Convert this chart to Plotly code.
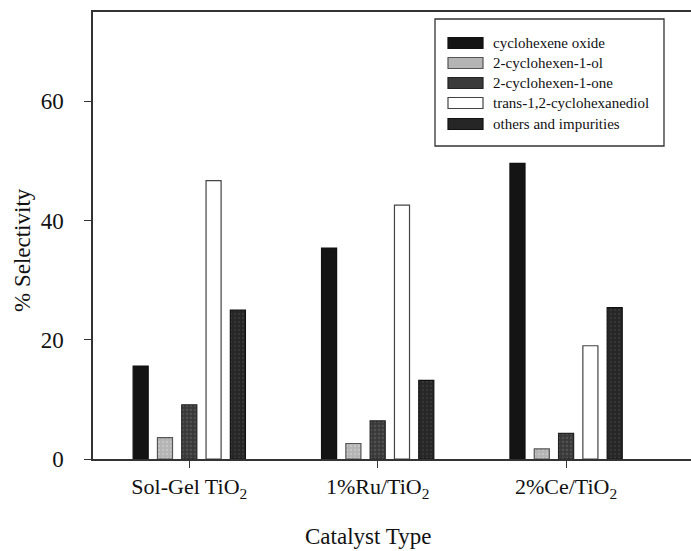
import plotly.graph_objects as go

# Catalysts and product selectivities (%)
catalysts = ["Sol-Gel TiO<sub>2</sub>", "1%Ru/TiO<sub>2</sub>", "2%Ce/TiO<sub>2</sub>"]
products = [
    "cyclohexene oxide",
    "2-cyclohexen-1-ol",
    "2-cyclohexen-1-one",
    "trans-1,2-cyclohexanediol",
    "others and impurities",
]
cyclohexene_oxide = [15.6, 35.4, 49.6]
cyclohexenol = [3.6, 2.6, 1.7]
cyclohexenone = [9.1, 6.4, 4.3]
cyclohexanediol = [46.7, 42.6, 19.0]
others = [25.0, 13.2, 25.4]
series = [cyclohexene_oxide, cyclohexenol, cyclohexenone, cyclohexanediol, others]
y_ticks = [0, 20, 40, 60]

fills = ["#141414", "#b4b4b4", "#3a3a3a", "#ffffff", "#262626"]
pattern_fg = [None, "#d8d8d8", "#6a6a6a", None, "#4a4a4a"]
outline = ["#111111", "#555555", "#222222", "#444444", "#111111"]

FONT = "Liberation Serif"
W, H = 691, 551
L, R, T, B = 93, 0, 12, 92

fig = go.Figure()
for name, vals, fc, pf, lc in zip(products, series, fills, pattern_fg, outline):
    marker = dict(color=fc, line=dict(color=lc, width=1.2))
    if pf:
        marker["pattern"] = dict(shape=".", fgcolor=pf, bgcolor=fc, size=4, solidity=0.25)
    fig.add_trace(go.Bar(x=list(range(len(catalysts))), y=vals, name=name,
                         marker=marker, showlegend=False))

# Legend box drawn by hand so swatches are wide rectangles
pw, ph = W - L - R, H - T - B
def px(x):
    return (x - L) / pw
def py(y):
    return (H - B - y) / ph

shapes = [dict(type="rect", xref="paper", yref="paper",
               x0=px(435), x1=px(664), y0=py(146), y1=py(19),
               line=dict(color="#333333", width=1.3), fillcolor="rgba(0,0,0,0)")]
annotations = []
row_y = [43, 63, 83, 103, 124]
for name, fc, lc, ry in zip(products, fills, outline, row_y):
    shapes.append(dict(type="rect", xref="paper", yref="paper",
                       x0=px(448), x1=px(483), y0=py(ry + 5.5), y1=py(ry - 5.5),
                       fillcolor=fc, line=dict(color=lc, width=1.2)))
    annotations.append(dict(xref="paper", yref="paper", x=px(491), y=py(ry),
                            text=name, showarrow=False, xanchor="left", yanchor="middle",
                            font=dict(family=FONT, size=15, color="#111111")))

# Axis titles placed as annotations
annotations.append(dict(xref="paper", yref="paper", x=px(22), y=py(250),
                        text="% Selectivity", textangle=-90, showarrow=False,
                        xanchor="center", yanchor="middle",
                        font=dict(family=FONT, size=23, color="#111111")))
annotations.append(dict(xref="paper", yref="paper", x=px(368), y=py(536),
                        text="Catalyst Type", showarrow=False,
                        xanchor="center", yanchor="middle",
                        font=dict(family=FONT, size=23, color="#111111")))

fig.update_layout(
    width=W, height=H,
    margin=dict(l=L, r=R, t=T, b=B),
    paper_bgcolor="white", plot_bgcolor="white",
    barmode="group", bargap=0.355, bargroupgap=0.38,
    font=dict(family=FONT, size=22, color="#111111"),
    shapes=shapes, annotations=annotations,
    xaxis=dict(
        range=[-0.511, 2.663],
        tickmode="array", tickvals=list(range(len(catalysts))), ticktext=catalysts,
        ticks="outside", ticklen=7, tickcolor="#333333", tickwidth=1.2,
        showline=True, linecolor="#333333", linewidth=1.5, mirror=True,
        showgrid=False, zeroline=False,
        tickfont=dict(size=22),
    ),
    yaxis=dict(
        range=[0, 75],
        tickmode="array", tickvals=y_ticks,
        ticks="outside", ticklen=7, tickcolor="#333333", tickwidth=1.2,
        ticklabelstandoff=16,
        showline=True, linecolor="#333333", linewidth=1.5,
        showgrid=False, zeroline=False,
        tickfont=dict(size=23),
    ),
)

fig.write_html("out.html")
